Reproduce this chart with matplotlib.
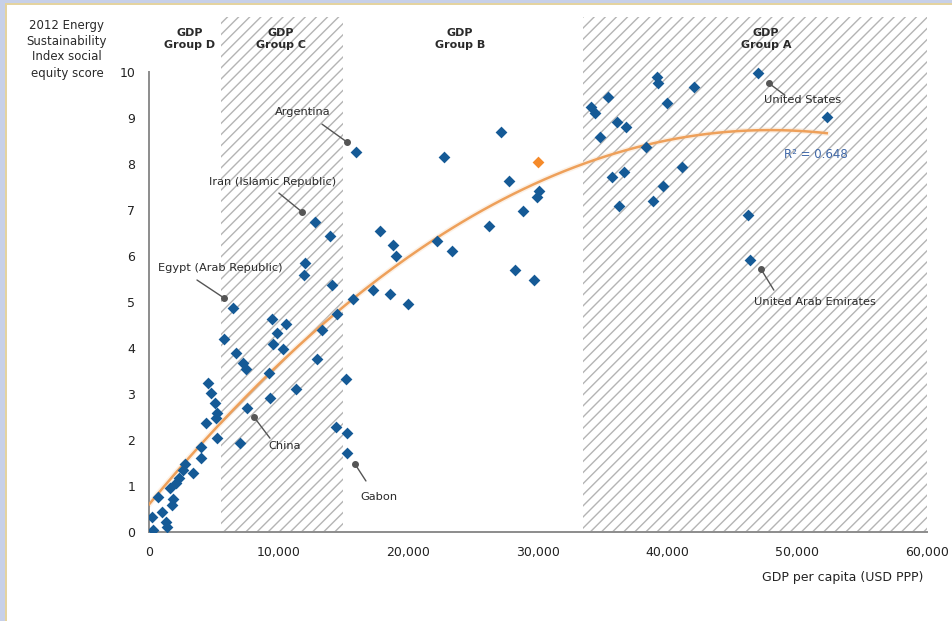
import matplotlib
matplotlib.use("Agg")
import matplotlib.pyplot as plt
from matplotlib.patches import Rectangle
import numpy as np

plt.rcParams["font.family"] = ["DejaVu Sans"]
plt.rcParams["hatch.linewidth"] = 1.0
plt.rcParams["hatch.color"] = "#b4b4b4"

# GDP per capita (USD PPP) and 2012 social equity score
gdp = [310, 230, 690, 1000, 1310, 1390, 1770, 1850, 1620, 2080, 2310, 2780, 2620,
       3390, 4010, 4010, 4400, 5240, 4550, 4780, 5090, 5240, 5170,
       6480, 5780, 6710, 7250, 7480, 7560, 7020, 9480, 10560, 9870, 9560, 10330,
       9250, 9330, 11330, 12800, 13960, 12030, 11950, 14110, 14500, 13340, 12950,
       15190, 14420, 15270, 15270, 15730,
       15960, 22740, 27140, 27750, 30070, 29910, 28830, 26210, 17810, 18810, 19040,
       22200, 23360, 28220, 29680, 17270, 18580, 19970,
       46950, 52270, 39170, 39240, 42020, 35390, 39940, 34080, 34390, 36080, 36780,
       34770, 38320, 41100, 36620, 35700, 39630, 38860, 36240, 46180, 46340]
score = [0.05, 0.33, 0.76, 0.43, 0.22, 0.11, 0.59, 0.72, 0.96, 1.07, 1.17, 1.48, 1.35,
         1.28, 1.61, 1.85, 2.37, 2.04, 3.24, 3.02, 2.80, 2.58, 2.48,
         4.87, 4.20, 3.89, 3.67, 3.54, 2.70, 1.93, 4.63, 4.52, 4.33, 4.09, 3.98,
         3.46, 2.91, 3.11, 6.74, 6.43, 5.85, 5.59, 5.37, 4.74, 4.39, 3.76,
         3.33, 2.28, 2.15, 1.72, 5.07,
         8.26, 8.15, 8.70, 7.63, 7.41, 7.28, 6.98, 6.65, 6.54, 6.24, 6.00,
         6.33, 6.11, 5.70, 5.48, 5.26, 5.17, 4.96,
         9.98, 9.02, 9.89, 9.76, 9.67, 9.46, 9.33, 9.24, 9.11, 8.91, 8.80,
         8.59, 8.37, 7.93, 7.83, 7.72, 7.52, 7.20, 7.09, 6.89, 5.91]

# highlighted country (orange)
hl_gdp = [29990]
hl_score = [8.04]

# polynomial trendline as drawn in the chart (c2, c1, c0)
trend_coef = [-3.55e-9, 3.40e-4, 0.60]
r2_text = "R\u00b2 = 0.648"

# GDP group bands
group_names = ["GDP\nGroup D", "GDP\nGroup C", "GDP\nGroup B", "GDP\nGroup A"]
group_label_x = [3160, 10180, 23980, 47570]
hatched_bands = [(5550, 15000), (33500, 60000)]

x_ticks = [0, 10000, 20000, 30000, 40000, 50000, 60000]
y_ticks = list(range(0, 11))

fig = plt.figure(figsize=(9.53, 6.21), dpi=100)
fig.patch.set_facecolor("white")
ax = fig.add_axes([149 / 953, 89 / 621, 778 / 953, 515 / 621])

for lo, hi in hatched_bands:
    ax.axvspan(lo, hi, facecolor="white", edgecolor="#b4b4b4", hatch="///",
               linewidth=0, zorder=0)

xs = np.linspace(0, max(gdp), 200)
ys = np.polyval(trend_coef, xs)
ax.plot(xs, ys, color="#f7d2ad", lw=4, alpha=0.3, zorder=2)
ax.plot(xs, ys, color="#eea05a", lw=1.8, zorder=3)

ax.scatter(gdp, score, marker="D", s=36, color="#155a96", linewidths=0, zorder=4)
ax.scatter(hl_gdp, hl_score, marker="D", s=36, color="#f58a2a", linewidths=0, zorder=4)

ax.set_xlim(0, 60000)
ax.set_ylim(0, 11.2)
ax.set_xticks(x_ticks)
ax.set_xticklabels([f"{v:,}" for v in x_ticks])
ax.set_yticks(y_ticks)
ax.tick_params(length=0, labelsize=9, colors="#222222", pad=10)
for side in ["top", "right"]:
    ax.spines[side].set_visible(False)
for side in ["left", "bottom"]:
    ax.spines[side].set_color("#8c8c8c")
    ax.spines[side].set_linewidth(1.4)
ax.spines["left"].set_bounds(0, 10)
ax.patch.set_alpha(0)

for name, gx in zip(group_names, group_label_x):
    ax.text(gx, 10.72, name, ha="center", va="center", fontsize=8,
            fontweight="bold", color="#2a2a2a", linespacing=1.35)

# country call-outs: (label, text pos, line end, dot)
callouts = [
    ("Argentina", (11870, 9.13), (13340, 8.87), (15270, 8.48)),
    ("Iran (Islamic Republic)", (9560, 7.61), (10020, 7.37), (11800, 6.96)),
    ("Egypt (Arab Republic)", (5470, 5.74), (3700, 5.48), (5780, 5.09)),
    ("China", (10490, 1.87), (9330, 2.04), (8100, 2.50)),
    ("Gabon", (17730, 0.76), (16730, 1.11), (15880, 1.48)),
    ("United States", (50420, 9.39), (49040, 9.50), (47800, 9.76)),
    ("United Arab Emirates", (51350, 5.00), (48190, 5.26), (47190, 5.72)),
]
for label, tpos, lend, dot in callouts:
    ax.annotate("", xy=dot, xytext=lend,
                arrowprops=dict(arrowstyle="-", color="#555555", lw=1.0,
                                shrinkA=0, shrinkB=0), zorder=5)
    ax.plot(*dot, marker="o", ms=4, color="#555555", zorder=5)
    ax.text(*tpos, label, ha="center", va="center", fontsize=8.2, color="#2a2a2a")

ax.text(51400, 8.2, r2_text, ha="center", va="center", fontsize=8.5, color="#4068a8")

fig.text(67 / 953, 1 - 49 / 621,
         "2012 Energy\nSustainability\nIndex social\nequity score",
         ha="center", va="center", fontsize=8.5, color="#2a2a2a", linespacing=1.3)
fig.text(843 / 953, 1 - 578 / 621, "GDP per capita (USD PPP)", ha="center",
         va="center", fontsize=9, color="#222222")

# frame strips of the page
W, H = 953, 621
fig.add_artist(Rectangle((0, 0), 5 / W, 1, transform=fig.transFigure,
                         facecolor="#c7d0e8", edgecolor="none"))
fig.add_artist(Rectangle((5 / W, 0), 2 / W, 1 - 3 / H, transform=fig.transFigure,
                         facecolor="#e4d39f", edgecolor="none"))
fig.add_artist(Rectangle((0, 1 - 3 / H), 1, 3 / H, transform=fig.transFigure,
                         facecolor="#c7d0e8", edgecolor="none"))
fig.add_artist(Rectangle((5 / W, 1 - 5 / H), 1, 2 / H, transform=fig.transFigure,
                         facecolor="#e4d39f", edgecolor="none"))

fig.savefig("out.png", dpi=100)
